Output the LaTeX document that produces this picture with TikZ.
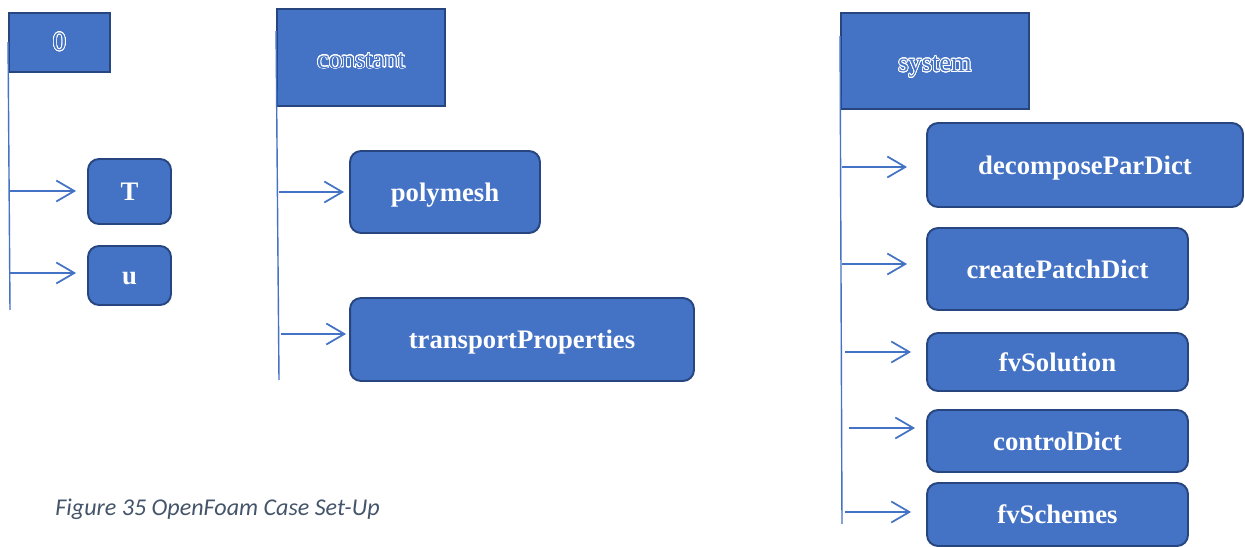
\documentclass[tikz,border=0pt]{standalone}
\usepackage{fontspec}
\setmainfont{Liberation Serif}
\newfontfamily\capfont{Carlito}
\usepackage{contour}
\contourlength{0.45pt}
\contournumber{24}
\usetikzlibrary{arrows.meta,calc}
\definecolor{boxfill}{HTML}{4472C4}
\definecolor{boxedge}{HTML}{27467F}
\definecolor{captiongray}{HTML}{44546A}
\tikzset{
  dirbox/.style={draw=boxedge, fill=boxfill, line width=1.1pt, inner sep=0pt,
    font=\fontsize{15}{17}\selectfont},
  filebox/.style={draw=boxedge, fill=boxfill, line width=1.1pt, rounded corners=0.22cm,
    inner sep=0pt, text=white, font=\fontsize{15.2}{18}\selectfont\bfseries},
  trunk/.style={draw=boxfill, line width=0.8pt},
  arr/.style={draw=boxfill, line width=1pt, -{Straight Barb[length=0.36cm,width=0.42cm,line width=1pt]}}
}
% outlined (hollow) lettering for the directory names; the fixed box height
% sets how far the baseline sits below the header centre
\newcommand{\hollow}[2][0.9em]{\raisebox{0pt}[#1][0.1em]{\contour{white}{\textcolor{boxfill}{#2}}}}
% file names with a uniform baseline a little below the box centre
\newcommand{\fname}[1]{\raisebox{0pt}[0.8em][0.1em]{#1}}
\begin{document}
\begin{tikzpicture}[x=0.02cm,y=-0.02cm]
\useasboundingbox (0,0) rectangle (1245,547);

% directory headers
\node[dirbox, minimum width=2.02cm, minimum height=1.18cm] (zero) at (59.5,42.5) {\hollow[0.7em]{0}};
\node[dirbox, minimum width=3.36cm, minimum height=1.94cm] (constant) at (361,57.5) {\hollow{constant}};
\node[dirbox, minimum width=3.76cm, minimum height=1.92cm] (system) at (935,61) {\hollow{system}};

% files
\node[filebox, minimum width=1.66cm, minimum height=1.30cm] (T) at (129.5,191.5) {\fname{T}};
\node[filebox, minimum width=1.66cm, minimum height=1.18cm] (u) at (129.5,275.5) {\fname{u}};
\node[filebox, minimum width=3.80cm, minimum height=1.64cm] (polymesh) at (445,192) {\fname{polymesh}};
\node[filebox, minimum width=6.88cm, minimum height=1.66cm] (transport) at (522,339.5) {\fname{transportProperties}};
\node[filebox, minimum width=6.32cm, minimum height=1.68cm] (decompose) at (1085,165) {\fname{decomposeParDict}};
\node[filebox, minimum width=5.22cm, minimum height=1.64cm] (createpatch) at (1057.5,269) {\fname{createPatchDict}};
\node[filebox, minimum width=5.22cm, minimum height=1.16cm] (fvsolution) at (1057.5,362) {\fname{fvSolution}};
\node[filebox, minimum width=5.22cm, minimum height=1.24cm] (controldict) at (1057.5,441) {\fname{controlDict}};
\node[filebox, minimum width=5.22cm, minimum height=1.26cm] (fvschemes) at (1057.5,514.5) {\fname{fvSchemes}};

% trunk ends
\coordinate (zeroend) at (10,310);
\coordinate (constend) at (279,380);
\coordinate (sysend) at (842,524);
\draw[trunk] ($(zero.north west)+(0,30)$) -- (zeroend);
\draw[trunk] ($(constant.north west)+(0,23)$) -- (constend);
\draw[trunk] ($(system.north west)+(0,24)$) -- (sysend);

% arrow tails on the trunks
\coordinate (aT) at (10,191);
\coordinate (au) at (10,273);
\coordinate (apoly) at (279,192);
\coordinate (atrans) at (281,334);
\coordinate (adec) at (842,167);
\coordinate (acre) at (842,264);
\coordinate (asol) at (845,352);
\coordinate (actl) at (849,428);
\coordinate (asch) at (845,512);

\draw[arr] (aT) -- ($(aT -| T.west)+(-11,0)$);
\draw[arr] (au) -- ($(au -| u.west)+(-11,0)$);
\draw[arr] (apoly) -- ($(apoly -| polymesh.west)+(-5,0)$);
\draw[arr] (atrans) -- ($(atrans -| transport.west)+(-3,0)$);
\draw[arr] (adec) -- ($(adec -| decompose.west)+(-19,0)$);
\draw[arr] (acre) -- ($(acre -| createpatch.west)+(-19,0)$);
\draw[arr] (asol) -- ($(asol -| fvsolution.west)+(-15,0)$);
\draw[arr] (actl) -- ($(actl -| controldict.west)+(-11,0)$);
\draw[arr] (asch) -- ($(asch -| fvschemes.west)+(-15,0)$);

% caption
\node[anchor=base west, inner sep=0pt, text=captiongray,
  font=\capfont\itshape\fontsize{13.7}{16}\selectfont] (caption) at (55,515) {Figure 35 OpenFoam Case Set-Up};
\end{tikzpicture}
\end{document}
